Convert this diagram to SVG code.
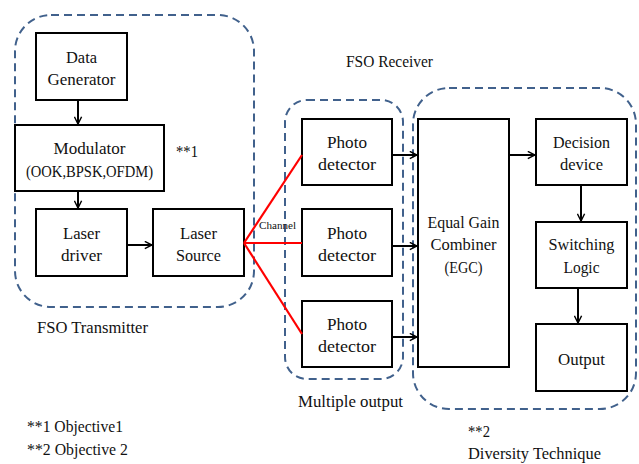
<svg xmlns="http://www.w3.org/2000/svg" width="639" height="464" viewBox="0 0 639 464">
  <style>
    .box { fill: #ffffff; stroke: #000000; stroke-width: 2; }
    .grp { fill: none; stroke: #41618c; stroke-width: 2; stroke-dasharray: 8 5; }
    text { font-family: 'Liberation Serif', 'Times New Roman', serif; font-size: 17px; fill: #111111; }
    .lbl { text-anchor: middle; }
    .small { font-size: 10px; }
    .flow { fill: none; stroke: #000000; stroke-width: 2; }
    .beam { fill: none; stroke: #ff0000; stroke-width: 2.2; }
  </style>
  <defs>
    <marker id="arr" viewBox="0 0 10 10" refX="9" refY="5" markerWidth="9" markerHeight="9" markerUnits="userSpaceOnUse" orient="auto">
      <path d="M1,1 L9,5 L1,9" fill="none" stroke="#000000" stroke-width="1.6"/>
    </marker>
  </defs>

  <rect width="639" height="464" fill="#ffffff"/>

  <!-- dashed grouping outlines -->
  <g id="groups">
    <rect class="grp" x="15" y="15" width="239" height="292" rx="36" ry="36"/>
    <rect class="grp" x="285" y="100" width="118" height="279" rx="22" ry="22"/>
    <rect class="grp" x="413" y="88" width="223" height="321" rx="36" ry="36"/>
  </g>

  <!-- transmitter chain -->
  <g id="data-generator">
    <rect class="box" x="36" y="33" width="91" height="67"/>
    <text class="lbl" x="81.5" y="63" textLength="31" lengthAdjust="spacingAndGlyphs">Data</text>
    <text class="lbl" x="81.5" y="85" textLength="68" lengthAdjust="spacingAndGlyphs">Generator</text>
  </g>
  <g id="modulator">
    <rect class="box" x="15" y="125" width="149" height="66"/>
    <text class="lbl" x="89.5" y="154" textLength="72" lengthAdjust="spacingAndGlyphs">Modulator</text>
    <text class="lbl" x="89.5" y="177" textLength="127" lengthAdjust="spacingAndGlyphs">(OOK,BPSK,OFDM)</text>
  </g>
  <g id="laser-driver">
    <rect class="box" x="36" y="209" width="91" height="67"/>
    <text class="lbl" x="81.5" y="239" textLength="37" lengthAdjust="spacingAndGlyphs">Laser</text>
    <text class="lbl" x="81.5" y="261" textLength="41" lengthAdjust="spacingAndGlyphs">driver</text>
  </g>
  <g id="laser-source">
    <rect class="box" x="153" y="209" width="91" height="67"/>
    <text class="lbl" x="198.5" y="239" textLength="37" lengthAdjust="spacingAndGlyphs">Laser</text>
    <text class="lbl" x="198.5" y="261" textLength="45" lengthAdjust="spacingAndGlyphs">Source</text>
  </g>

  <!-- photodetectors -->
  <g id="photo-detector-1">
    <rect class="box" x="302" y="119" width="90" height="66"/>
    <text class="lbl" x="347" y="148" textLength="40" lengthAdjust="spacingAndGlyphs">Photo</text>
    <text class="lbl" x="347" y="170" textLength="58" lengthAdjust="spacingAndGlyphs">detector</text>
  </g>
  <g id="photo-detector-2">
    <rect class="box" x="302" y="209" width="90" height="67"/>
    <text class="lbl" x="347" y="239" textLength="40" lengthAdjust="spacingAndGlyphs">Photo</text>
    <text class="lbl" x="347" y="261" textLength="58" lengthAdjust="spacingAndGlyphs">detector</text>
  </g>
  <g id="photo-detector-3">
    <rect class="box" x="302" y="301" width="90" height="66"/>
    <text class="lbl" x="347" y="330" textLength="40" lengthAdjust="spacingAndGlyphs">Photo</text>
    <text class="lbl" x="347" y="352" textLength="58" lengthAdjust="spacingAndGlyphs">detector</text>
  </g>

  <!-- diversity stage -->
  <g id="egc">
    <rect class="box" x="418" y="119" width="91" height="248"/>
    <text class="lbl" x="463.5" y="228" textLength="72" lengthAdjust="spacingAndGlyphs">Equal Gain</text>
    <text class="lbl" x="463.5" y="250" textLength="66" lengthAdjust="spacingAndGlyphs">Combiner</text>
    <text class="lbl" x="463.5" y="273" textLength="38" lengthAdjust="spacingAndGlyphs">(EGC)</text>
  </g>
  <g id="decision-device">
    <rect class="box" x="536" y="119" width="91" height="66"/>
    <text class="lbl" x="581.5" y="148" textLength="57" lengthAdjust="spacingAndGlyphs">Decision</text>
    <text class="lbl" x="581.5" y="170" textLength="43" lengthAdjust="spacingAndGlyphs">device</text>
  </g>
  <g id="switching-logic">
    <rect class="box" x="536" y="222" width="91" height="66"/>
    <text class="lbl" x="581.5" y="250" textLength="66" lengthAdjust="spacingAndGlyphs">Switching</text>
    <text class="lbl" x="581.5" y="273" textLength="36" lengthAdjust="spacingAndGlyphs">Logic</text>
  </g>
  <g id="output">
    <rect class="box" x="536" y="324" width="91" height="67"/>
    <text class="lbl" x="581.5" y="365" textLength="47" lengthAdjust="spacingAndGlyphs">Output</text>
  </g>

  <!-- connectors -->
  <g id="connectors">
    <line class="flow" x1="78" y1="100" x2="78" y2="124" marker-end="url(#arr)"/>
    <line class="flow" x1="78" y1="191" x2="78" y2="208" marker-end="url(#arr)"/>
    <line class="flow" x1="127" y1="245" x2="152" y2="245" marker-end="url(#arr)"/>
    <line class="beam" x1="244" y1="243" x2="302" y2="155"/>
    <line class="beam" x1="244" y1="243" x2="302" y2="243"/>
    <line class="beam" x1="244" y1="243" x2="302" y2="334"/>
    <line class="flow" x1="392" y1="155" x2="417" y2="155" marker-end="url(#arr)"/>
    <line class="flow" x1="392" y1="246" x2="417" y2="246" marker-end="url(#arr)"/>
    <line class="flow" x1="392" y1="337" x2="417" y2="337" marker-end="url(#arr)"/>
    <line class="flow" x1="509" y1="155" x2="535" y2="155" marker-end="url(#arr)"/>
    <line class="flow" x1="581" y1="185" x2="581" y2="221" marker-end="url(#arr)"/>
    <line class="flow" x1="578" y1="288" x2="578" y2="323" marker-end="url(#arr)"/>
  </g>

  <!-- captions -->
  <g id="captions">
    <text class="small" x="259" y="229" textLength="37" lengthAdjust="spacingAndGlyphs">Channel</text>
    <text x="176" y="157" textLength="22" lengthAdjust="spacingAndGlyphs">**1</text>
    <text x="37" y="333" textLength="111" lengthAdjust="spacingAndGlyphs">FSO Transmitter</text>
    <text x="346" y="67" textLength="87" lengthAdjust="spacingAndGlyphs">FSO Receiver</text>
    <text x="298" y="407" textLength="105" lengthAdjust="spacingAndGlyphs">Multiple output</text>
    <text x="468" y="437" textLength="22" lengthAdjust="spacingAndGlyphs">**2</text>
    <text x="468" y="459" textLength="133" lengthAdjust="spacingAndGlyphs">Diversity Technique</text>
    <text x="27" y="432" textLength="96" lengthAdjust="spacingAndGlyphs">**1 Objective1</text>
    <text x="27" y="455" textLength="101" lengthAdjust="spacingAndGlyphs">**2 Objective 2</text>
  </g>
</svg>
